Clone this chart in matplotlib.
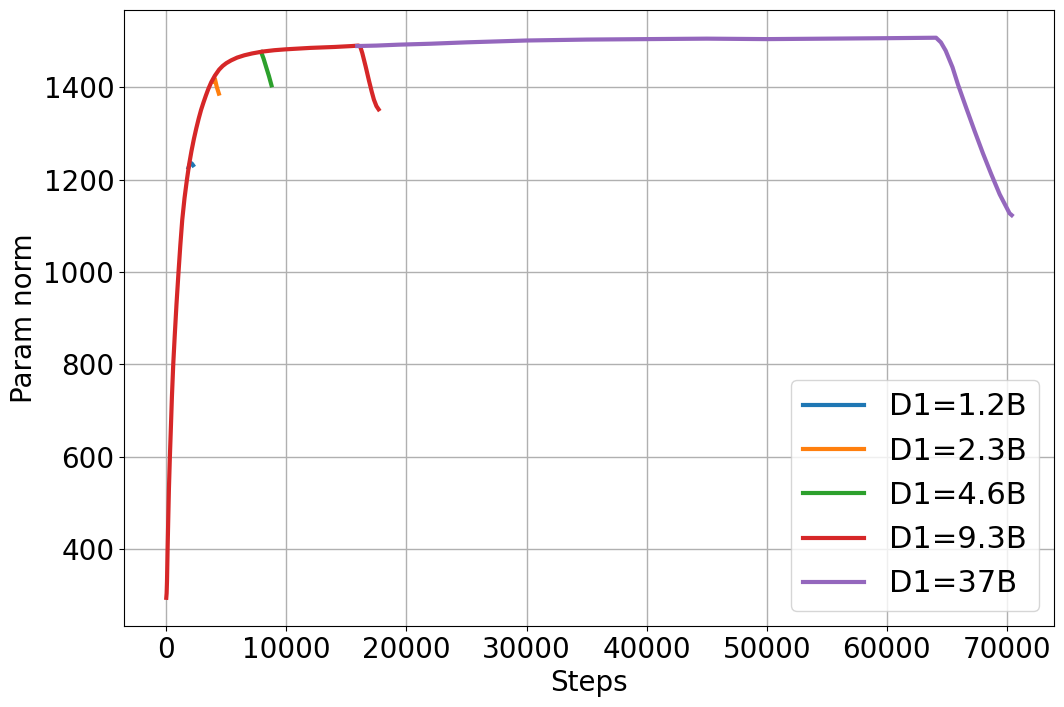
import matplotlib
matplotlib.use("Agg")
import matplotlib.pyplot as plt

# Data
steps_12 = [1850, 1950, 2050, 2150, 2230]
norm_12 = [1226, 1233, 1236, 1234, 1231]

steps_23 = [3900, 4050, 4200, 4380]
norm_23 = [1413, 1418, 1401, 1386]

steps_46 = [7900, 8100, 8300, 8550, 8760]
norm_46 = [1476, 1462, 1445, 1424, 1404]

steps_93 = [0, 30, 60, 110, 160, 220, 300, 380, 470, 580, 700, 850, 1020,
            1170, 1330, 1520, 1720, 1910, 2100, 2300, 2500, 2700, 2900, 3100,
            3300, 3500, 3750, 4050, 4400, 4700, 5000, 5400, 5900, 6500, 7150,
            8000, 9000, 10000, 12000, 14000, 15460, 16000, 16150, 16320, 16600,
            16880, 17100, 17290, 17500, 17680]
norm_93 = [295, 305, 330, 400, 460, 530, 600, 660, 730, 800, 860, 930, 1000,
           1058, 1113, 1160, 1200, 1234, 1262, 1288, 1311, 1332, 1351, 1367,
           1382, 1396, 1411, 1425, 1438, 1446, 1452, 1458, 1464, 1469, 1473,
           1477, 1480, 1482, 1485, 1487, 1489, 1490, 1488, 1474, 1445,
           1414, 1391, 1373, 1359, 1352]

steps_37 = [15900, 17500, 19370, 22000, 25000, 30000, 35000, 40000, 45000,
            50000, 55000, 60000, 64100, 64500, 64900, 65470, 65920, 66600,
            67310, 68000, 68690, 69400, 70220, 70400]
norm_37 = [1489, 1490, 1492, 1494, 1497, 1501, 1503, 1504, 1505,
           1504, 1505, 1506, 1507, 1497, 1479, 1443, 1406, 1356,
           1305, 1257, 1212, 1168, 1127, 1123]

labels = ["D1=1.2B", "D1=2.3B", "D1=4.6B", "D1=9.3B", "D1=37B"]
colors = ["#1f77b4", "#ff7f0e", "#2ca02c", "#d62728", "#9467bd"]

fig = plt.figure(figsize=(10.64, 7.07), dpi=100)
ax = fig.add_axes([124 / 1064, 1 - 626 / 707, (1054 - 124) / 1064, (626 - 10) / 707])

series = [(steps_12, norm_12), (steps_23, norm_23), (steps_46, norm_46),
          (steps_93, norm_93), (steps_37, norm_37)]
for (s, n), lab, c in zip(series, labels, colors):
    ax.plot(s, n, color=c, lw=3, label=lab)

ax.set_xlim(-3520, 73920)
ax.set_ylim(234, 1567)
ax.set_xticks(range(0, 70001, 10000))
ax.set_yticks(range(400, 1401, 200))
ax.tick_params(labelsize=20)
ax.set_xlabel("Steps", fontsize=20)
ax.set_ylabel("Param norm", fontsize=20)
ax.grid(True, color="#b0b0b0", lw=1)
ax.legend(loc="lower right", fontsize=22)

fig.savefig("out.png", dpi=100)
